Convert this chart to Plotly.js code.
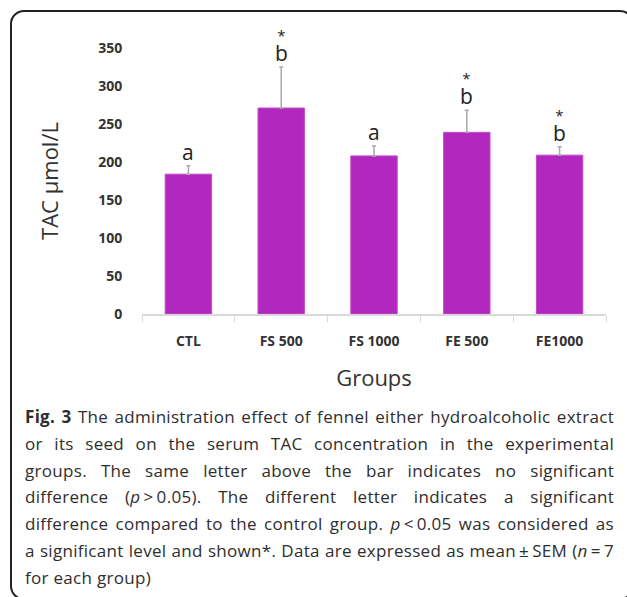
<!DOCTYPE html>
<html>
<head>
<meta charset="utf-8">
<script src="https://cdn.plot.ly/plotly-3.0.1.min.js"></script>
<style>
  html, body { margin: 0; padding: 0; background: #fff; }
  body { width: 627px; height: 597px; position: relative; overflow: hidden; }
  #frame { position: absolute; left: 10px; top: 10px; width: 624px; height: 590px;
           border: 2px solid #222; border-radius: 14px; box-sizing: border-box; }
  #chart { position: absolute; left: 0; top: 0; width: 627px; height: 400px; }
  #caption { position: absolute; left: 25px; top: 404px; width: 589px;
             font-family: "Open Sans", sans-serif; font-size: 17px; color: #2e2e2e;
             line-height: 26.8px; }
  #caption .ln { text-align: justify; text-align-last: justify; white-space: nowrap; }
  #caption .last { text-align: left; text-align-last: left; }
  #measure { position: absolute; visibility: hidden; white-space: nowrap;
             font-family: "Open Sans", sans-serif; font-size: 17px; }
</style>
</head>
<body>
<div id="frame"></div>
<div id="chart"></div>
<div id="caption">
  <div class="ln"><b>Fig. 3</b> The administration effect of fennel either hydroalcoholic extract</div>
  <div class="ln">or its seed on the serum TAC concentration in the experimental</div>
  <div class="ln">groups. The same letter above the bar indicates no significant</div>
  <div class="ln">difference (<i>p</i>&#8201;&gt;&#8201;0.05). The different letter indicates a significant</div>
  <div class="ln">difference compared to the control group. <i>p</i>&#8201;&lt;&#8201;0.05 was considered as</div>
  <div class="ln">a significant level and shown*. Data are expressed as mean&#8201;±&#8201;SEM (<i>n</i>&#8201;=&#8201;7</div>
  <div class="ln last">for each group)</div>
</div>
<span id="measure"></span>
<script>
const groups = ["CTL", "FS 500", "FS 1000", "FE 500", "FE1000"];
const tacMean = [184, 271, 208, 239, 209];
const tacSem = [11, 54, 13, 29, 11];
const letters = ["a", "b", "a", "b", "b"];
const stars = ["", "*", "", "*", "*"];
const yTicks = [0, 50, 100, 150, 200, 250, 300, 350];

// fit caption letter-spacing so the first (naturally spaced) line fills the width
(function fitCaption() {
  const cap = document.getElementById("caption");
  const first = cap.querySelector(".ln");
  const m = document.getElementById("measure");
  m.innerHTML = first.innerHTML;
  const w = m.getBoundingClientRect().width;
  const n = first.textContent.length;
  let ls = (586 - w) / n;
  ls = Math.max(-0.8, Math.min(0.3, ls));
  cap.style.letterSpacing = ls.toFixed(3) + "px";
})();

const annotations = groups.map((g, i) => {
  const top = tacMean[i] + tacSem[i];
  if (stars[i]) {
    return {
      x: g, y: top, xref: "x", yref: "y", showarrow: false,
      text: stars[i] + "<br><span style='font-size:21px'>" + letters[i] + "</span>",
      yanchor: "bottom", yshift: -2,
      font: { family: "Open Sans, sans-serif", size: 15, color: "#222" }
    };
  }
  return {
    x: g, y: top, xref: "x", yref: "y", text: letters[i], showarrow: false,
    yanchor: "bottom", yshift: -2,
    font: { family: "Open Sans, sans-serif", size: 21, color: "#222" }
  };
});

const trace = {
  type: "bar",
  x: groups,
  y: tacMean,
  width: 0.5,
  marker: { color: "#B228BF", line: { color: "#C04ACB", width: 1 } },
  error_y: { type: "data", array: tacSem, symmetric: false, arrayminus: [0,0,0,0,0],
             color: "#aaaaaa", thickness: 1.5, width: 2 },
  hoverinfo: "none"
};

const layout = {
  width: 627, height: 400,
  margin: { l: 142, r: 21, t: 48, b: 86 },
  paper_bgcolor: "rgba(0,0,0,0)",
  plot_bgcolor: "rgba(0,0,0,0)",
  showlegend: false,
  xaxis: {
    type: "category",
    showline: true, linecolor: "#d9d9d9", linewidth: 1.5,
    ticks: "outside", tickson: "boundaries", ticklen: 6, tickcolor: "#d9d9d9",
    ticklabelstandoff: 14,
    tickfont: { family: "Open Sans, sans-serif", size: 14, color: "#333", weight: "bold" },
    showgrid: false, zeroline: false,
    title: { text: "Groups", standoff: 21,
             font: { family: "Open Sans, sans-serif", size: 22, color: "#333" } }
  },
  yaxis: {
    range: [0, 350], tickvals: yTicks, ticktext: yTicks.map(String),
    showline: false, showgrid: false, zeroline: false,
    ticks: "outside", ticklen: 16, tickcolor: "rgba(0,0,0,0)",
    tickfont: { family: "Open Sans, sans-serif", size: 14, color: "#333", weight: "bold" },
    title: { text: "TAC µmol/L", standoff: 33,
             font: { family: "Open Sans, sans-serif", size: 22, color: "#333" } }
  },
  annotations: annotations
};

Plotly.newPlot("chart", [trace], layout, { displayModeBar: false, staticPlot: true });
</script>
</body>
</html>
